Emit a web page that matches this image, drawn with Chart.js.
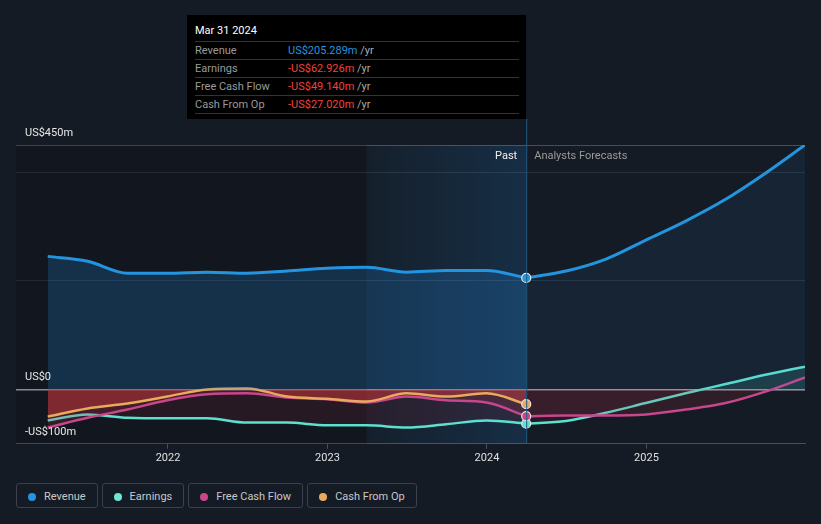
<!DOCTYPE html>
<html>
<head>
<meta charset="utf-8">
<script src="https://cdn.jsdelivr.net/npm/chart.js@4.4.1/dist/chart.umd.min.js"></script>
<style>
  html, body { margin: 0; padding: 0; background: #151b24; font-family: Roboto, "Noto Sans", sans-serif; }
  #wrap { position: relative; width: 821px; height: 524px; overflow: hidden; }
  #chartBox { position: absolute; left: 0; top: 0; width: 821px; height: 475px; }
  #tip { position: absolute; left: 187px; top: 15px; width: 339px; height: 104px; background: #000; box-sizing: border-box; padding: 0 7px 0 8px; font-size: 11px; }
  #tip .head { color: #fff; height: 26px; line-height: 32px; border-bottom: 1px solid #333; }
  #tip .row { height: 17px; line-height: 17px; border-bottom: 1px solid #333; color: #9a9a9a; position: relative; }
  #tip .row span.v { position: absolute; left: 93px; }
  .blue { color: #2394df; }
  .red { color: #f0433f; }
  .unit { color: #aaa; }
  #legend { position: absolute; left: 16px; top: 483px; display: flex; gap: 4px; }
  #legend div { height: 25px; line-height: 25px; border: 1px solid #3b404a; border-radius: 3px; box-sizing: border-box; padding: 0 11px 0 11px; color: #c8c8c8; font-size: 11px; }
  #legend i { display: inline-block; width: 8px; height: 8px; border-radius: 50%; margin-right: 8px; vertical-align: -0.5px; }
</style>
</head>
<body>
<div id="wrap">
  <div id="chartBox"><canvas id="finChart"></canvas></div>
  <div id="tip">
    <div class="head">Mar 31 2024</div>
    <div class="row">Revenue<span class="v"><span class="blue">US$205.289m</span> <span class="unit">/yr</span></span></div>
    <div class="row">Earnings<span class="v"><span class="red">-US$62.926m</span> <span class="unit">/yr</span></span></div>
    <div class="row">Free Cash Flow<span class="v"><span class="red">-US$49.140m</span> <span class="unit">/yr</span></span></div>
    <div class="row">Cash From Op<span class="v"><span class="red">-US$27.020m</span> <span class="unit">/yr</span></span></div>
  </div>
  <div id="legend">
    <div><i style="background:#2394df"></i>Revenue</div>
    <div><i style="background:#6ee6d5"></i>Earnings</div>
    <div><i style="background:#c8468c"></i>Free Cash Flow</div>
    <div><i style="background:#e8ab5e"></i>Cash From Op</div>
  </div>
</div>
<script>
// time axis in decimal years (quarter ends)
const pastYears = [2021.246, 2021.496, 2021.746, 2021.996, 2022.246, 2022.496, 2022.746, 2022.996,
                   2023.246, 2023.496, 2023.746, 2023.996, 2024.246];
const forecastYears = [2024.246, 2024.496, 2024.746, 2024.996, 2025.246, 2025.496, 2025.746, 2025.994];

// values in US$ millions
const revenuePast = [245, 236, 214, 214, 216, 214, 218, 223, 225, 216, 219, 219, 205.289];
const revenueForecast = [205.289, 218, 240, 275, 310, 350, 398, 450];
const earningsPast = [-57, -46, -52, -53, -53, -61, -61, -66, -66, -70, -64, -57, -62.926];
const earningsForecast = [-62.926, -58, -43, -25, -7, 10, 27, 42];
const fcfPast = [-70, -52, -37, -20, -9, -7, -15, -18, -24, -13, -20, -24, -49.14];
const fcfForecast = [-49.14, -48, -48, -46, -37, -25, -4, 22];
const cashOpPast = [-50, -35, -26, -13, 0, 2, -13, -17, -22, -7, -13, -7, -27.02];

const yTicks = [-100, 0, 200, 400, 450];
const yLabels = { '450': 'US$450m', '0': 'US$0', '-100': '-US$100m' };
const xTicks = [2022, 2023, 2024, 2025];
const nowYear = 2024.246;
const bandStart = 2023.246;

function pts(xs, ys) {
  return xs.map((x, i) => ({ x: x, y: ys[i] }));
}

// marker only on the "now" point
function nowDot(ctx) {
  return ctx.raw && ctx.raw.x === nowYear ? 4.5 : 0;
}

const lineBase = {
  borderWidth: 2.5,
  cubicInterpolationMode: 'monotone',
  pointRadius: nowDot,
  pointHoverRadius: 0,
  pointBorderColor: '#e8e8e8',
  pointBorderWidth: 1.2
};

const backdrop = {
  id: 'backdrop',
  beforeDatasetsDraw(chart) {
    const { ctx, chartArea: a, scales: { x } } = chart;
    const bx = x.getPixelForValue(bandStart);
    const nx = x.getPixelForValue(nowYear);
    ctx.save();
    ctx.fillStyle = 'rgba(0,0,0,0.12)';
    ctx.fillRect(a.left, a.top, bx - a.left, a.bottom - a.top);
    const g = ctx.createLinearGradient(bx, 0, nx, 0);
    g.addColorStop(0, 'rgba(33,150,243,0.04)');
    g.addColorStop(1, 'rgba(33,150,243,0.16)');
    ctx.fillStyle = g;
    ctx.fillRect(bx, a.top, nx - bx, a.bottom - a.top);
    ctx.restore();
  },
  afterDatasetsDraw(chart) {
    const { ctx, chartArea: a, scales: { x, y } } = chart;
    const nx = x.getPixelForValue(nowYear);
    ctx.save();
    ctx.strokeStyle = '#1f5a86';
    ctx.lineWidth = 1;
    ctx.beginPath();
    ctx.moveTo(nx + 0.5, 119);
    ctx.lineTo(nx + 0.5, a.bottom);
    ctx.stroke();
    ctx.font = '11px Roboto, sans-serif';
    ctx.textBaseline = 'middle';
    ctx.fillStyle = '#f0f0f0';
    ctx.textAlign = 'right';
    ctx.fillText('Past', nx - 9, 156);
    ctx.fillStyle = '#9a9a9a';
    ctx.textAlign = 'left';
    ctx.fillText('Analysts Forecasts', nx + 8, 156);
    ctx.fillStyle = '#e6e6e6';
    Object.keys(yLabels).forEach(v => {
      const py = y.getPixelForValue(Number(v));
      ctx.fillText(yLabels[v], a.left + 9, py - 12);
    });
    ctx.restore();
  }
};

new Chart(document.getElementById('finChart'), {
  type: 'line',
  data: {
    datasets: [
      Object.assign({}, lineBase, {
        label: 'Revenue',
        data: pts(pastYears, revenuePast),
        borderColor: '#2394df',
        pointBackgroundColor: '#2394df',
        borderWidth: 3,
        fill: { target: 'origin', above: 'rgba(33,150,243,0.2)' }
      }),
      Object.assign({}, lineBase, {
        label: 'Revenue forecast',
        data: pts(forecastYears, revenueForecast),
        borderColor: '#2394df',
        borderWidth: 3,
        pointRadius: 0,
        fill: { target: 'origin', above: 'rgba(33,150,243,0.08)' }
      }),
      Object.assign({}, lineBase, {
        label: 'Cash From Op',
        data: pts(pastYears, cashOpPast),
        borderColor: '#e8ab5e',
        pointBackgroundColor: '#e8ab5e',
        fill: { target: 'origin', below: 'rgba(220,60,60,0.38)', above: 'rgba(0,0,0,0)' }
      }),
      Object.assign({}, lineBase, {
        label: 'Free Cash Flow',
        data: pts(pastYears, fcfPast),
        borderColor: '#c8468c',
        pointBackgroundColor: '#c8468c',
        fill: { target: 'origin', below: 'rgba(190,50,70,0.2)', above: 'rgba(0,0,0,0)' }
      }),
      Object.assign({}, lineBase, {
        label: 'Free Cash Flow forecast',
        data: pts(forecastYears, fcfForecast),
        borderColor: '#c8468c',
        pointRadius: 0,
        fill: { target: 'origin', below: 'rgba(190,50,70,0.14)', above: 'rgba(0,0,0,0)' }
      }),
      Object.assign({}, lineBase, {
        label: 'Earnings',
        data: pts(pastYears, earningsPast),
        borderColor: '#5ee0cf',
        pointBackgroundColor: '#5ee0cf',
        fill: { target: 'origin', below: 'rgba(120,30,50,0.2)' }
      }),
      Object.assign({}, lineBase, {
        label: 'Earnings forecast',
        data: pts(forecastYears, earningsForecast),
        borderColor: '#5ee0cf',
        pointRadius: 0,
        fill: { target: 'origin', above: 'rgba(94,224,207,0.14)', below: 'rgba(120,30,50,0.14)' }
      })
    ]
  },
  options: {
    responsive: true,
    maintainAspectRatio: false,
    animation: false,
    layout: { padding: { top: 145, left: 16, right: 16, bottom: 7 } },
    plugins: {
      legend: { display: false },
      tooltip: { enabled: false }
    },
    scales: {
      x: {
        type: 'linear',
        min: 2021.047,
        max: 2025.994,
        afterBuildTicks(scale) {
          scale.ticks = xTicks.map(v => ({ value: v }));
        },
        grid: { drawOnChartArea: false, drawTicks: true, tickLength: 5, color: '#4a4f58' },
        border: { display: true, color: '#4a4f58' },
        ticks: {
          color: '#e0e0e0',
          font: { family: 'Roboto', size: 11 },
          padding: 3,
          maxRotation: 0,
          callback: v => String(v)
        }
      },
      y: {
        min: -100,
        max: 450,
        afterBuildTicks(scale) {
          scale.ticks = yTicks.map(v => ({ value: v }));
        },
        ticks: { display: false },
        border: { display: false },
        grid: {
          drawTicks: false,
          color: ctx => {
            const v = ctx.tick && ctx.tick.value;
            if (v === 0) return '#9aa0a6';
            if (v === 450) return '#474c55';
            if (v === -100) return 'rgba(0,0,0,0)';
            return '#2a303a';
          },
          lineWidth: ctx => (ctx.tick && ctx.tick.value === 0 ? 1.5 : 1)
        }
      }
    }
  },
  plugins: [backdrop]
});
</script>
</body>
</html>
